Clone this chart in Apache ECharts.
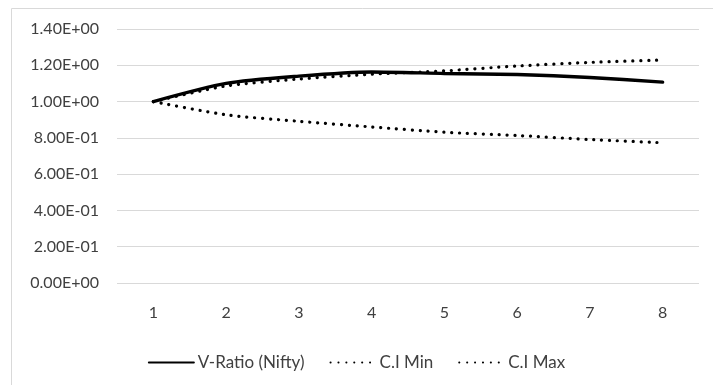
<!DOCTYPE html>
<html><head><meta charset="utf-8">
<script src="https://cdn.jsdelivr.net/npm/echarts@6/dist/echarts.min.js"></script>
<style>html,body{margin:0;padding:0;background:#fff}#c{width:713px;height:385px}</style>
</head><body><div id="c"></div>
<script>
const categories = ['1','2','3','4','5','6','7','8'];
const vRatio = [1.000, 1.100, 1.140, 1.163, 1.155, 1.149, 1.133, 1.107];
const ciMin  = [1.000, 0.927, 0.891, 0.860, 0.831, 0.813, 0.791, 0.773];
const ciMax  = [1.000, 1.086, 1.124, 1.151, 1.169, 1.196, 1.216, 1.229];
const seriesNames = ['V-Ratio (Nifty)', 'C.I Min', 'C.I Max'];

const font = 'Lato, "Open Sans", sans-serif';
const chart = echarts.init(document.getElementById('c'));
const dotted = {color:'#000', width:3.2, type:[0.1, 7.8], cap:'round'};
chart.setOption({
  animation:false,
  graphic:[{type:'rect', shape:{x:11.5,y:8.5,width:720,height:400}, style:{fill:null, stroke:'#d9d9d9', lineWidth:1}}],
  grid:{left:117, right:14, top:29, bottom:102},
  xAxis:{type:'category', data:categories, boundaryGap:true,
    axisLine:{show:false}, axisTick:{show:false},
    axisLabel:{color:'#404040', fontSize:16, fontFamily:font, margin:22}},
  yAxis:{type:'value', min:0, max:1.4, interval:0.2,
    axisLine:{show:false}, axisTick:{show:false},
    splitLine:{lineStyle:{color:'#d9d9d9', width:1}},
    axisLabel:{color:'#404040', fontSize:16, fontFamily:font, margin:18,
      formatter:v=>{const e=v===0?0:Math.floor(Math.log10(v)+1e-9);const m=v/Math.pow(10,e);return m.toFixed(2)+'E'+(e<0?'-':'+')+String(Math.abs(e)).padStart(2,'0');}}},
  legend:{top:349, left:'center', itemWidth:45, itemHeight:14, itemGap:25,
    itemStyle:{opacity:0},
    textStyle:{color:'#404040', fontSize:17, fontFamily:font, padding:[0,0,0,-1]},
    data:seriesNames},
  series:[
    {name:seriesNames[0], type:'line', data:vRatio, smooth:0.25, symbol:'none',
      lineStyle:{color:'#000', width:3.4, cap:'round'}, itemStyle:{color:'#000'}, z:3},
    {name:seriesNames[1], type:'line', data:ciMin, smooth:0.25, symbol:'none',
      lineStyle:dotted, itemStyle:{color:'#000'}},
    {name:seriesNames[2], type:'line', data:ciMax, smooth:0.25, symbol:'none',
      lineStyle:dotted, itemStyle:{color:'#000'}}
  ]
});
</script></body></html>
